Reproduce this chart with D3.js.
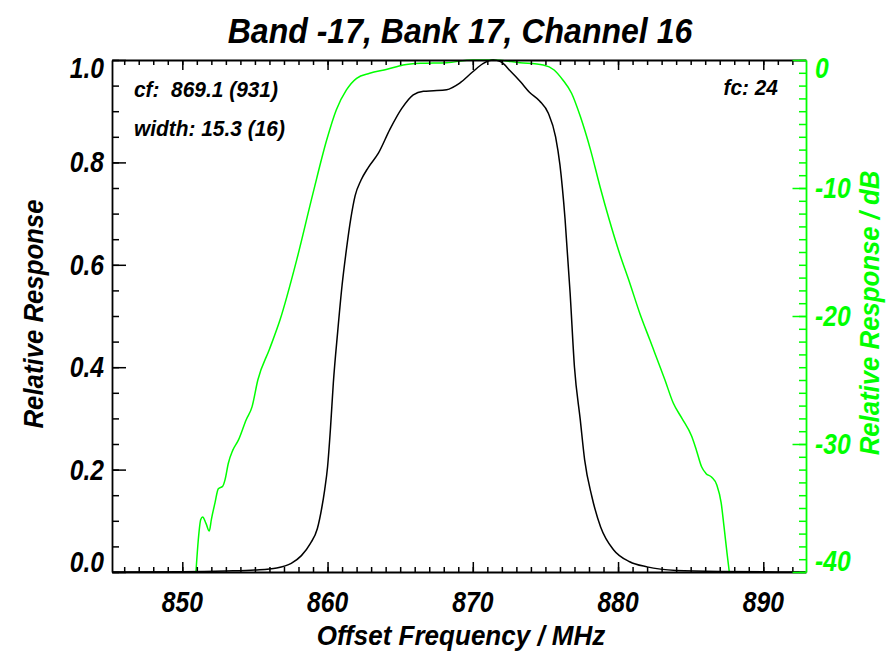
<!DOCTYPE html>
<html><head><meta charset="utf-8">
<script src="https://cdn.jsdelivr.net/npm/d3@7"></script>
<style>
html,body{margin:0;padding:0;background:#fff;}
svg{display:block;}
text{font-family:"Liberation Sans",Arial,Helvetica,sans-serif;font-weight:bold;font-style:italic;white-space:pre;}
</style></head>
<body>
<svg id="chart" width="886" height="652"></svg>
<script>
// ---------- data ----------
const titleText = "Band -17, Bank 17, Channel 16";
const xLabel = "Offset Frequency / MHz";
const yLabelLeft = "Relative Response";
const yLabelRight = "Relative Response / dB";
const annotations = ["cf:  869.1 (931)", "width: 15.3 (16)", "fc: 24"];

const xDomain = [845.16, 892.94];
const yDomain = [0, 1];
const dbDomain = [-40, 0];

const xMajorTicks = [850, 860, 870, 880, 890];
const xMinorTicks = d3.range(846, 893, 1);
const yMajorTicks = [0, 0.2, 0.4, 0.6, 0.8, 1.0];
const yTickLabels = ["0.0", "0.2", "0.4", "0.6", "0.8", "1.0"];
const yMinorTicks = d3.range(0, 1.0001, 0.05);
const dbMajorTicks = [0, -10, -20, -30, -40];
const dbTickLabels = ["0", "-10", "-20", "-30", "-40"];
const dbMinorTicks = d3.range(-40, 0.001, 1);

// linear response (black)
const freqLin = [845.2, 850, 853, 855, 856.5, 857.5, 858.2, 858.8, 859.3, 859.6, 859.8, 860.0, 860.2, 860.4, 860.7, 861.0, 861.3, 861.6, 861.9, 862.3, 862.8, 863.5, 864.3, 865.1, 865.9, 866.6, 867.3, 868.2, 869.1, 870.0, 870.7, 871.4, 871.9, 872.6, 873.3, 873.9, 874.6, 875.2, 875.7, 876.0, 876.35, 876.7, 877.0, 877.4, 877.7, 878.2, 878.8, 879.7, 880.8, 882.0, 884.0, 887.0, 892.9];
const respLin = [0, 0.0005, 0.002, 0.004, 0.008, 0.017, 0.032, 0.055, 0.085, 0.125, 0.16, 0.205, 0.28, 0.37, 0.47, 0.56, 0.63, 0.69, 0.735, 0.765, 0.79, 0.818, 0.865, 0.905, 0.932, 0.939, 0.94, 0.942, 0.955, 0.977, 0.993, 1.0, 0.997, 0.978, 0.957, 0.937, 0.92, 0.896, 0.85, 0.795, 0.69, 0.545, 0.40, 0.297, 0.219, 0.147, 0.088, 0.043, 0.02, 0.01, 0.003, 0.001, 0];

// response in dB (green)
const freqDb = [850.94, 851.1, 851.27, 851.4, 851.63, 851.86, 852.0, 852.25, 852.48, 852.78, 852.94, 853.17, 853.47, 853.86, 854.4, 854.8, 855.2, 856.0, 856.73, 857.88, 859.0, 859.94, 860.6, 861.3, 862.0, 862.9, 864.1, 865.2, 866.4, 868.2, 870.0, 871.4, 873.25, 874.85, 875.6, 876.2, 876.8, 877.4, 878.1, 878.76, 879.4, 880.1, 880.8, 881.5, 882.2, 883.23, 883.8, 884.4, 885.07, 885.4, 885.76, 886.05, 886.45, 886.8, 887.1, 887.3, 887.5, 887.66];
const respDb = [-40, -37.5, -35.9, -35.7, -36.2, -36.8, -35.9, -34.6, -33.5, -33.3, -32.8, -31.5, -30.5, -29.7, -28.1, -27.1, -25.0, -22.6, -20.3, -15.6, -10.4, -6.25, -3.9, -2.34, -1.43, -1.04, -0.73, -0.39, -0.26, -0.21, 0, 0, -0.21, -0.39, -0.78, -1.56, -2.6, -4.4, -7.0, -9.9, -12.5, -15.1, -17.4, -19.8, -21.9, -25.0, -26.8, -28.0, -29.4, -30.5, -31.8, -32.3, -32.6, -33.2, -34.6, -36.5, -38.5, -40];

// ---------- layout ----------
const L = 112, R = 806, T = 60, B = 572;
const GREEN = "#00ff00";
const svg = d3.select("#chart");

const x = d3.scaleLinear().domain(xDomain).range([L, R]);
const y = d3.scaleLinear().domain(yDomain).range([B, T]);
const yDb = d3.scaleLinear().domain(dbDomain).range([B, T]);

svg.append("defs").append("clipPath").attr("id", "plotclip")
  .append("rect").attr("x", L).attr("y", T - 2).attr("width", R - L).attr("height", B - T + 4);

// curves
const lineLin = d3.line().x((d, i) => x(freqLin[i])).y(d => y(d)).curve(d3.curveMonotoneX);
const lineDb = d3.line().x((d, i) => x(freqDb[i])).y(d => yDb(d)).curve(d3.curveMonotoneX);

const plot = svg.append("g").attr("clip-path", "url(#plotclip)");
plot.append("path").attr("d", lineDb(respDb)).attr("fill", "none").attr("stroke", GREEN).attr("stroke-width", 1.5);
plot.append("path").attr("d", lineLin(respLin)).attr("fill", "none").attr("stroke", "#000").attr("stroke-width", 1.5);

// ---------- axes ----------
function styleAxis(g, color) {
  g.select(".domain").attr("stroke", color).attr("stroke-width", 1.8);
  g.selectAll(".tick line").attr("stroke", color).attr("stroke-width", 1.5);
  g.selectAll("text").remove();
}
svg.append("g").attr("transform", `translate(0,${B})`)
  .call(d3.axisBottom(x).tickValues(xMinorTicks).tickSize(-5).tickSizeOuter(0).tickFormat(""))
  .call(g => styleAxis(g, "#000"));
svg.append("g").attr("transform", `translate(0,${B})`)
  .call(d3.axisBottom(x).tickValues(xMajorTicks).tickSize(-10).tickSizeOuter(0).tickFormat(""))
  .call(g => { styleAxis(g, "#000"); g.select(".domain").remove(); });
svg.append("g").attr("transform", `translate(0,${T})`)
  .call(d3.axisTop(x).tickValues(xMinorTicks).tickSize(-5).tickSizeOuter(0).tickFormat(""))
  .call(g => styleAxis(g, "#000"));
svg.append("g").attr("transform", `translate(0,${T})`)
  .call(d3.axisTop(x).tickValues(xMajorTicks).tickSize(-10).tickSizeOuter(0).tickFormat(""))
  .call(g => { styleAxis(g, "#000"); g.select(".domain").remove(); });
svg.append("g").attr("transform", `translate(${L},0)`)
  .call(d3.axisLeft(y).tickValues(yMinorTicks).tickSize(-7).tickSizeOuter(0).tickFormat(""))
  .call(g => styleAxis(g, "#000"));
svg.append("g").attr("transform", `translate(${L},0)`)
  .call(d3.axisLeft(y).tickValues(yMajorTicks).tickSize(-14).tickSizeOuter(0).tickFormat(""))
  .call(g => { styleAxis(g, "#000"); g.select(".domain").remove(); });
svg.append("g").attr("transform", `translate(${R},0)`)
  .call(d3.axisRight(yDb).tickValues(dbMinorTicks).tickSize(-7).tickSizeOuter(0).tickFormat(""))
  .call(g => styleAxis(g, GREEN));
svg.append("g").attr("transform", `translate(${R},0)`)
  .call(d3.axisRight(yDb).tickValues(dbMajorTicks).tickSize(-13.5).tickSizeOuter(0).tickFormat(""))
  .call(g => { styleAxis(g, GREEN); g.select(".domain").remove(); });

// ---------- condensed text helper ----------
function label(parent, str, px, py, opts) {
  const o = Object.assign({size: 26, sx: 0.87, anchor: "start", fill: "#000", rot: 0}, opts || {});
  return parent.append("text")
    .attr("transform", `translate(${px},${py})` + (o.rot ? ` rotate(${o.rot})` : "") + ` scale(${o.sx},1)`)
    .attr("text-anchor", o.anchor).attr("font-size", o.size).attr("fill", o.fill).text(str);
}

// ---------- tick labels ----------
const gx = svg.append("g");
xMajorTicks.forEach(d => label(gx, String(d), x(d), 612, {size: 29, sx: 0.85, anchor: "middle"}));

const gy = svg.append("g");
yMajorTicks.forEach((d, i) => {
  let off = 10;
  if (i === yMajorTicks.length - 1) off = 18;
  if (i === 0) off = 0;
  label(gy, yTickLabels[i], 104, y(d) + off, {size: 29, sx: 0.85, anchor: "end"});
});

const gdb = svg.append("g");
dbMajorTicks.forEach((d, i) => {
  let off = 10;
  if (i === 0) off = 18;
  if (i === dbMajorTicks.length - 1) off = -1;
  label(gdb, dbTickLabels[i], 815, yDb(d) + off, {size: 29, sx: 0.85, anchor: "start", fill: GREEN});
});

// ---------- titles ----------
label(svg, titleText, 460, 43, {size: 36, sx: 0.89, anchor: "middle"});
label(svg, xLabel, 461, 645, {size: 28, sx: 0.93, anchor: "middle"});
label(svg, yLabelLeft, 43, 314, {size: 28, sx: 0.92, anchor: "middle", rot: -90});
label(svg, yLabelRight, 879, 313, {size: 28, sx: 0.92, anchor: "middle", rot: -90, fill: GREEN});

// ---------- annotations ----------
label(svg, annotations[0], 134, 97, {size: 22, sx: 0.95});
label(svg, annotations[1], 134, 136, {size: 22, sx: 0.95});
label(svg, annotations[2], 778, 95, {size: 22, sx: 0.95, anchor: "end"});
</script>
</body></html>
